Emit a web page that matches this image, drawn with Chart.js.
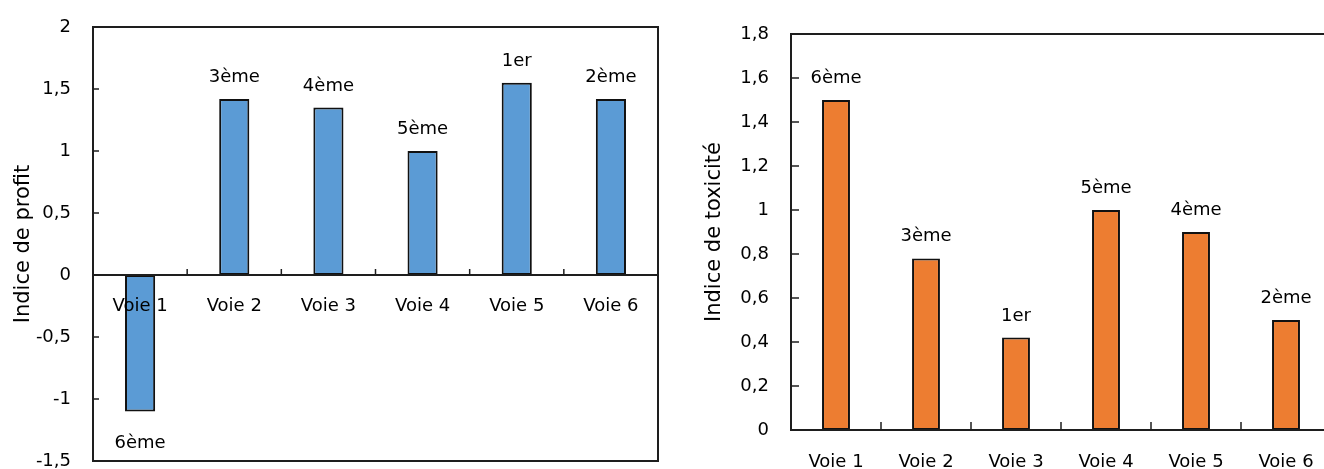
<!DOCTYPE html>
<html lang="fr">
<head>
<meta charset="utf-8">
<title>Indice de profit / Indice de toxicité</title>
<script src="https://cdn.jsdelivr.net/npm/chart.js@4.4.1/dist/chart.umd.min.js"></script>
<style>
    html, body { margin: 0; padding: 0; background: #fff; overflow: hidden; width: 1324px; height: 469px; }
    .boite { position: absolute; top: 0; height: 469px; }
    #boiteProfit { left: 0; width: 680px; }
    #boiteToxicite { left: 680px; width: 660px; }
    canvas { display: block; }
</style>
</head>
<body>
<div class="boite" id="boiteProfit"><canvas id="profit" width="680" height="469" style="width:680px;height:469px"></canvas></div>
<div class="boite" id="boiteToxicite"><canvas id="toxicite" width="660" height="469" style="width:660px;height:469px"></canvas></div>
<script>
// Données
const voies = ['Voie 1', 'Voie 2', 'Voie 3', 'Voie 4', 'Voie 5', 'Voie 6'];
const indiceProfit = [-1.1, 1.42, 1.35, 1.0, 1.55, 1.42];
const rangsProfit = ['6ème', '3ème', '4ème', '5ème', '1er', '2ème'];
const indiceToxicite = [1.5, 0.78, 0.42, 1.0, 0.9, 0.5];
const rangsToxicite = ['6ème', '3ème', '1er', '5ème', '4ème', '2ème'];
const ticksProfit = [-1.5, -1, -0.5, 0, 0.5, 1, 1.5, 2];
const ticksToxicite = [0, 0.2, 0.4, 0.6, 0.8, 1, 1.2, 1.4, 1.6, 1.8];

const police = '"DejaVu Sans", sans-serif';
Chart.defaults.font.family = police;
Chart.defaults.color = '#000';

function virgule(v) {
    return String(Math.round(v * 10) / 10).replace('.', ',');
}

// largeur fixe de l'axe Y, sans marge ajoutée en haut / en bas
function axeY(largeur) {
    return s => {
        s.width = largeur;
        s.paddingTop = 0;
        s.paddingBottom = 0;
    };
}

// Cadre, petites graduations intérieures et étiquettes de rang
const cadrePlugin = {
    id: 'cadre',
    afterDatasetsDraw(chart, args, opts) {
        const ctx = chart.ctx;
        const a = chart.chartArea;
        const x = chart.scales.x;
        const y = chart.scales.y;
        ctx.save();
        ctx.strokeStyle = '#1e1e1e';
        ctx.lineWidth = 2;
        ctx.strokeRect(a.left, a.top, a.right - a.left, a.bottom - a.top);

        // ligne du zéro
        const y0 = y.getPixelForValue(0);
        ctx.beginPath();
        ctx.moveTo(a.left, y0);
        ctx.lineTo(a.right, y0);
        ctx.stroke();

        // graduations Y vers l'intérieur
        ctx.lineWidth = 1.5;
        y.ticks.forEach(t => {
            const py = y.getPixelForValue(t.value);
            ctx.beginPath();
            ctx.moveTo(a.left, py);
            ctx.lineTo(a.left + opts.tickLen, py);
            ctx.stroke();
        });
        // graduations X entre les catégories
        for (let i = 1; i < voies.length; i++) {
            const px = (x.getPixelForValue(i - 1) + x.getPixelForValue(i)) / 2;
            ctx.beginPath();
            ctx.moveTo(px, y0);
            ctx.lineTo(px, y0 - opts.tickLen);
            ctx.stroke();
        }

        // rangs au-dessus / au-dessous des barres
        ctx.fillStyle = '#000';
        ctx.font = '18px ' + police;
        ctx.textAlign = 'center';
        ctx.textBaseline = 'alphabetic';
        const meta = chart.getDatasetMeta(0);
        meta.data.forEach((bar, i) => {
            const v = chart.data.datasets[0].data[i];
            if (v >= 0) {
                ctx.fillText(opts.rangs[i], bar.x, bar.y - 17);
            } else {
                ctx.fillText(opts.rangs[i], bar.x, bar.y + 37);
            }
        });
        ctx.restore();
    }
};

// Graphique Indice de profit
new Chart(document.getElementById('profit').getContext('2d'), {
    type: 'bar',
    data: {
        labels: voies,
        datasets: [{
            data: indiceProfit,
            backgroundColor: '#5B9BD5',
            borderColor: '#111',
            borderWidth: 2,
            borderSkipped: false,
            categoryPercentage: 1,
            barPercentage: 0.32
        }]
    },
    plugins: [cadrePlugin],
    options: {
        responsive: false,
        animation: false,
        layout: { padding: { top: 27, right: 22, bottom: 8, left: 0 } },
        plugins: {
            legend: { display: false },
            tooltip: { enabled: false },
            cadre: { tickLen: 6, rangs: rangsProfit }
        },
        scales: {
            x: {
                position: { y: 0 },
                afterFit: s => { s.height = 0; },
                grid: { display: false, drawTicks: false },
                border: { display: false },
                // z: 1 -> les libellés passent par-dessus la barre négative
                ticks: { z: 1, padding: 21, maxRotation: 0, autoSkip: false, font: { size: 18 } }
            },
            y: {
                min: -1.5,
                max: 2,
                afterFit: axeY(93),
                afterBuildTicks: s => { s.ticks = ticksProfit.map(v => ({ value: v })); },
                grid: { display: false, drawTicks: false },
                border: { display: false },
                ticks: { padding: 22, font: { size: 18 }, callback: v => virgule(v) },
                title: { display: true, text: 'Indice de profit', font: { size: 21 }, padding: { top: 11 } }
            }
        }
    }
});

// Graphique Indice de toxicité
new Chart(document.getElementById('toxicite').getContext('2d'), {
    type: 'bar',
    data: {
        labels: voies,
        datasets: [{
            data: indiceToxicite,
            backgroundColor: '#ED7D31',
            borderColor: '#111',
            borderWidth: 2,
            borderSkipped: false,
            categoryPercentage: 1,
            barPercentage: 0.31
        }]
    },
    plugins: [cadrePlugin],
    options: {
        responsive: false,
        animation: false,
        layout: { padding: { top: 34, right: 9, bottom: 0, left: 0 } },
        plugins: {
            legend: { display: false },
            tooltip: { enabled: false },
            cadre: { tickLen: 8, rangs: rangsToxicite }
        },
        scales: {
            x: {
                afterFit: s => { s.height = 39; },
                grid: { display: false, drawTicks: false },
                border: { display: false },
                ticks: { padding: 22, maxRotation: 0, autoSkip: false, font: { size: 18 } }
            },
            y: {
                min: 0,
                max: 1.8,
                afterFit: axeY(111),
                afterBuildTicks: s => { s.ticks = ticksToxicite.map(v => ({ value: v })); },
                grid: { display: false, drawTicks: false },
                border: { display: false },
                ticks: { padding: 22, font: { size: 18 }, callback: v => virgule(v) },
                title: { display: true, text: 'Indice de toxicité', font: { size: 21 }, padding: { top: 22 } }
            }
        }
    }
});
</script>
</body>
</html>
